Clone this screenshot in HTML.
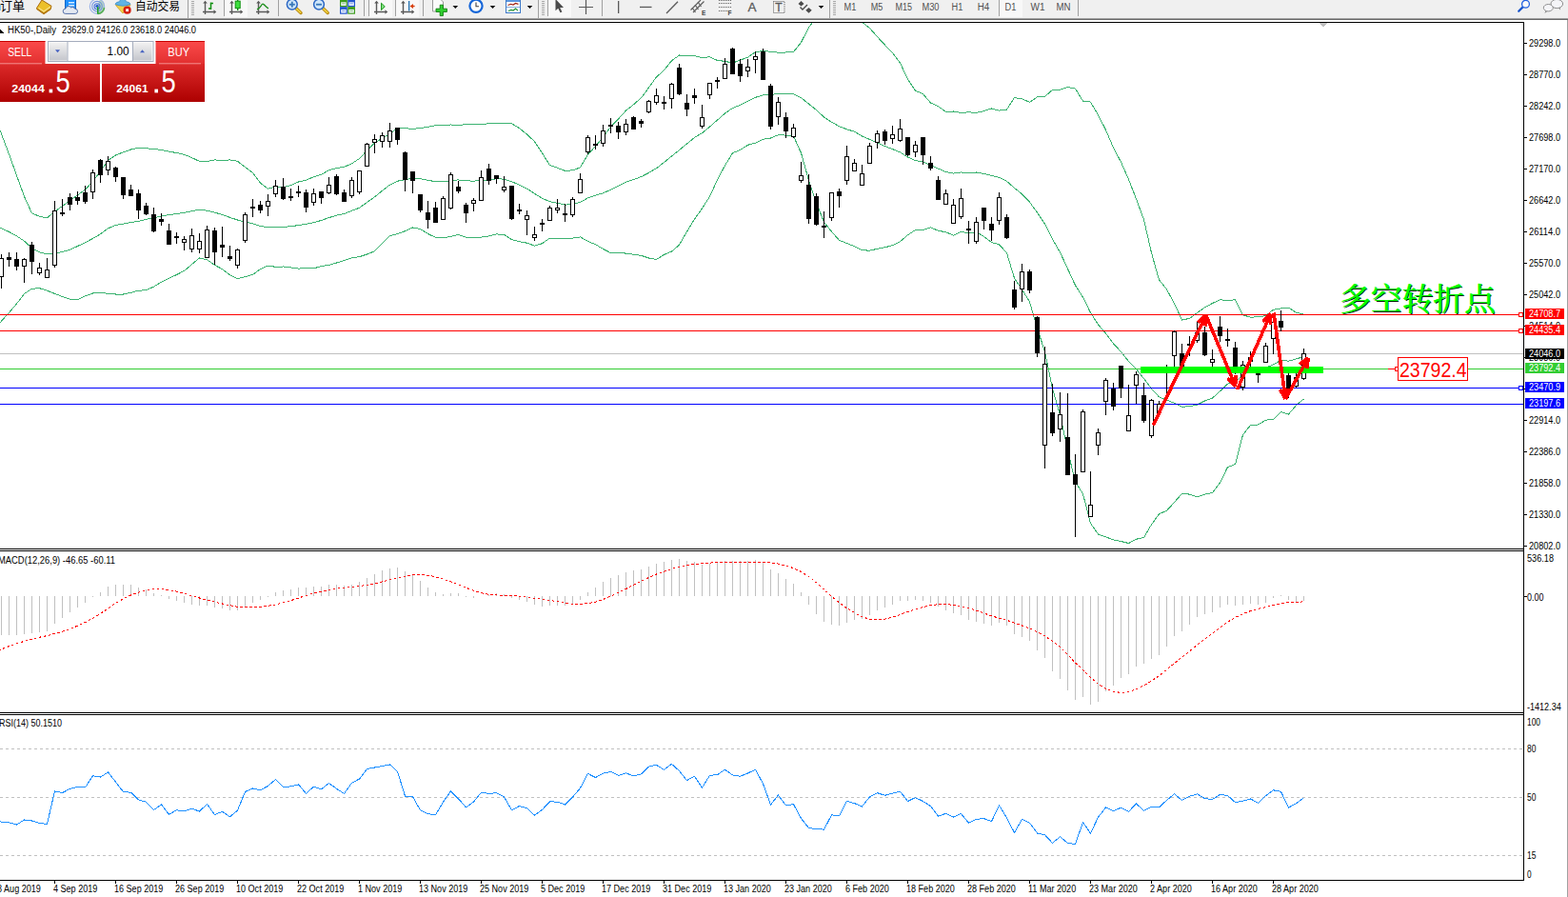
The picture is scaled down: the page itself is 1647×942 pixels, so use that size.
<!DOCTYPE html><html><head><meta charset="utf-8"><title>HK50 Daily</title><style>html,body{margin:0;padding:0;background:#fff;overflow:hidden}svg{display:block}text{font-family:"Liberation Sans","Noto Sans CJK SC",sans-serif}</style></head><body><svg width="1647" height="942" viewBox="0 0 1647 942"><defs><clipPath id="cm"><rect x="0" y="24" width="1600" height="552"/></clipPath></defs><g shape-rendering="crispEdges"><rect x="0" y="0" width="1647" height="942" fill="#fff"/><g clip-path="url(#cm)"><polyline fill="none" stroke="#3cb371" stroke-width="1" points="-6.5,119.5 1.5,140.7 9.5,161.9 17.5,184.2 25.5,206.5 33.5,223.9 41.5,227.3 49.5,228.8 57.5,222 65.5,216.5 73.5,210.5 81.5,205 89.5,199.1 97.5,190.5 105.5,179.9 113.5,168.3 121.5,163 129.5,159.8 137.5,157 145.5,155.1 153.5,155.8 161.5,156.5 169.5,157.4 177.5,159.2 185.5,160.5 193.5,162.3 201.5,165.6 209.5,169.4 217.5,169.5 225.5,168 233.5,168.1 241.5,168 249.5,169.3 257.5,175.6 265.5,181.3 273.5,192.3 281.5,198.2 289.5,196.1 297.5,196.7 305.5,194.5 313.5,191 321.5,189.2 329.5,185.7 337.5,183.3 345.5,178.8 353.5,176.5 361.5,175.3 369.5,171.9 377.5,166.6 385.5,158 393.5,149.9 401.5,145.3 409.5,140.3 417.5,134.7 425.5,134.8 433.5,135.3 441.5,134.7 449.5,133.3 457.5,131.8 465.5,131.8 473.5,131 481.5,131.4 489.5,130.7 497.5,130.6 505.5,130.3 513.5,129.9 521.5,129.7 529.5,129.9 537.5,129.8 545.5,134.6 553.5,141.1 561.5,148.6 569.5,160.8 577.5,173.5 585.5,176.3 593.5,179.4 601.5,178.8 609.5,175.9 617.5,162.3 625.5,153.5 633.5,144.1 641.5,133.1 649.5,124.9 657.5,116.1 665.5,109.8 673.5,102.8 681.5,92 689.5,80.9 697.5,73.8 705.5,63.8 713.5,58 721.5,58.7 729.5,58.6 737.5,60.5 745.5,59.8 753.5,63.5 761.5,64.3 769.5,66.2 777.5,63.1 785.5,60.2 793.5,54.5 801.5,53.6 809.5,54.2 817.5,55.2 825.5,55 833.5,54.5 841.5,44.6 849.5,28.8 857.5,17.9 865.5,12.7 873.5,13.2 881.5,13 889.5,16.1 897.5,17.7 905.5,23.2 913.5,29.5 921.5,38.7 929.5,47.2 937.5,55.6 945.5,66.1 953.5,83.3 961.5,95.3 969.5,98.6 977.5,108 985.5,111.8 993.5,117.3 1001.5,117 1009.5,118.5 1017.5,117.8 1025.5,118.4 1033.5,116.6 1041.5,114 1049.5,116.1 1057.5,115.1 1065.5,102.5 1073.5,103.9 1081.5,107.3 1089.5,101.9 1097.5,101.4 1105.5,94.4 1113.5,94.3 1121.5,91.5 1129.5,93.1 1137.5,106.1 1145.5,107.1 1153.5,120.9 1161.5,136.4 1169.5,155.2 1177.5,170.2 1185.5,188.5 1193.5,208.9 1201.5,230.6 1209.5,265.6 1217.5,294 1225.5,303.8 1233.5,318.8 1241.5,336 1249.5,334.4 1257.5,328.5 1265.5,322.9 1273.5,318.5 1281.5,314.7 1289.5,315.8 1297.5,314.6 1305.5,330.9 1313.5,333.1 1321.5,332.9 1329.5,331.5 1337.5,325.3 1345.5,324 1353.5,323.2 1361.5,328.2 1369.5,330.1"/><polyline fill="none" stroke="#3cb371" stroke-width="1" points="-6.5,236.1 1.5,239.8 9.5,243.5 17.5,247.9 25.5,253.2 33.5,260.5 41.5,264.9 49.5,267 57.5,265.9 65.5,264.5 73.5,262.3 81.5,258.5 89.5,254.7 97.5,250.5 105.5,245.8 113.5,239.8 121.5,236.5 129.5,235.1 137.5,233.5 145.5,232.5 153.5,230.2 161.5,228.8 169.5,226.8 177.5,225.7 185.5,224.5 193.5,223.4 201.5,221.6 209.5,220.2 217.5,221.2 225.5,223.2 233.5,225.4 241.5,228.4 249.5,231 257.5,233.1 265.5,234.8 273.5,237.4 281.5,238.7 289.5,238.2 297.5,238.4 305.5,237.7 313.5,236.6 321.5,235.3 329.5,233.8 337.5,231.4 345.5,228.6 353.5,226.2 361.5,224.5 369.5,221.3 377.5,218.2 385.5,212.5 393.5,206.8 401.5,200.3 409.5,194.1 417.5,190.2 425.5,188.7 433.5,187.1 441.5,187.6 449.5,189.4 457.5,190.6 465.5,190.7 473.5,189.7 481.5,188.9 489.5,189.9 497.5,190.1 505.5,189.7 513.5,189 521.5,187.8 529.5,188.1 537.5,190.7 545.5,194.1 553.5,198.1 561.5,203.3 569.5,208.2 577.5,211.8 585.5,213.3 593.5,215.1 601.5,214.5 609.5,212.4 617.5,207.9 625.5,205.1 633.5,202.8 641.5,199.3 649.5,195.1 657.5,191.1 665.5,188.6 673.5,185.6 681.5,181.5 689.5,176.7 697.5,170.6 705.5,164 713.5,157.6 721.5,151 729.5,144.4 737.5,139.7 745.5,133.1 753.5,126.1 761.5,119.1 769.5,113.5 777.5,110.3 785.5,106.2 793.5,102.3 801.5,99.9 809.5,99.6 817.5,98.4 825.5,98.5 833.5,98.8 841.5,102.7 849.5,109.1 857.5,115.5 865.5,123 873.5,128.2 881.5,132.7 889.5,135.8 897.5,138.2 905.5,143 913.5,146.4 921.5,150 929.5,153.5 937.5,156.6 945.5,159.9 953.5,165 961.5,168.5 969.5,170 977.5,173.4 985.5,177.1 993.5,180.5 1001.5,182.1 1009.5,181 1017.5,181.2 1025.5,181 1033.5,182.5 1041.5,184.3 1049.5,186.4 1057.5,190.3 1065.5,197.4 1073.5,203.9 1081.5,212.2 1089.5,223.3 1097.5,235.3 1105.5,251.3 1113.5,265 1121.5,282.3 1129.5,299.6 1137.5,312.3 1145.5,328.4 1153.5,340.9 1161.5,350.1 1169.5,361 1177.5,369.3 1185.5,379.5 1193.5,387.6 1201.5,397.6 1209.5,408.2 1217.5,416.9 1225.5,420.1 1233.5,423.2 1241.5,427.2 1249.5,426.8 1257.5,425.1 1265.5,421 1273.5,418.1 1281.5,410.8 1289.5,403.2 1297.5,401.1 1305.5,393.8 1313.5,389.8 1321.5,389.5 1329.5,386.3 1337.5,382.9 1345.5,378.2 1353.5,379.2 1361.5,376.9 1369.5,374.5"/><polyline fill="none" stroke="#3cb371" stroke-width="1" points="-6.5,346.2 1.5,337.2 9.5,328.3 17.5,319 25.5,308.5 33.5,303.2 41.5,302.7 49.5,305.2 57.5,308.4 65.5,311.5 73.5,314.1 81.5,314.8 89.5,310.9 97.5,308 105.5,307.3 113.5,308.4 121.5,309 129.5,309 137.5,307.3 145.5,305.2 153.5,304.7 161.5,301.1 169.5,296.2 177.5,292.2 185.5,288.5 193.5,284.4 201.5,277.7 209.5,270.9 217.5,272.8 225.5,278.3 233.5,282.7 241.5,288.8 249.5,292.6 257.5,290.7 265.5,288.4 273.5,282.5 281.5,279.1 289.5,280.3 297.5,280 305.5,280.9 313.5,282.1 321.5,281.4 329.5,281.9 337.5,279.5 345.5,278.4 353.5,276 361.5,273.6 369.5,270.7 377.5,269.7 385.5,267 393.5,263.8 401.5,255.4 409.5,247.8 417.5,245.6 425.5,242.6 433.5,239 441.5,240.5 449.5,245.5 457.5,249.4 465.5,249.6 473.5,248.5 481.5,246.4 489.5,249.1 497.5,249.5 505.5,249.1 513.5,248 521.5,245.9 529.5,246.4 537.5,251.6 545.5,253.7 553.5,255.2 561.5,258.1 569.5,255.7 577.5,250.1 585.5,250.3 593.5,250.8 601.5,250.1 609.5,248.9 617.5,253.5 625.5,256.7 633.5,261.5 641.5,265.6 649.5,265.3 657.5,266.1 665.5,267.3 673.5,268.3 681.5,271 689.5,272.5 697.5,267.4 705.5,264.1 713.5,257.1 721.5,243.3 729.5,230.2 737.5,218.8 745.5,206.4 753.5,188.8 761.5,173.8 769.5,160.8 777.5,157.5 785.5,152.3 793.5,150.1 801.5,146.2 809.5,145 817.5,141.7 825.5,142.1 833.5,143 841.5,160.7 849.5,189.5 857.5,213.1 865.5,233.3 873.5,243.2 881.5,252.4 889.5,255.5 897.5,258.7 905.5,262.7 913.5,263.2 921.5,261.3 929.5,259.8 937.5,257.7 945.5,253.6 953.5,246.8 961.5,241.6 969.5,241.4 977.5,238.9 985.5,242.3 993.5,243.7 1001.5,247.1 1009.5,243.5 1017.5,244.7 1025.5,243.7 1033.5,248.4 1041.5,254.5 1049.5,256.8 1057.5,265.6 1065.5,292.2 1073.5,304 1081.5,317 1089.5,344.7 1097.5,369.3 1105.5,408.2 1113.5,435.6 1121.5,473 1129.5,506 1137.5,518.6 1145.5,549.6 1153.5,561 1161.5,563.8 1169.5,566.9 1177.5,568.5 1185.5,570.5 1193.5,566.2 1201.5,564.6 1209.5,550.8 1217.5,539.8 1225.5,536.3 1233.5,527.5 1241.5,518.4 1249.5,519.1 1257.5,521.7 1265.5,519.1 1273.5,517.6 1281.5,506.9 1289.5,490.6 1297.5,487.6 1305.5,456.7 1313.5,446.5 1321.5,446 1329.5,441.1 1337.5,440.5 1345.5,432.5 1353.5,435.1 1361.5,425.6 1369.5,418.9"/><rect x="0" y="330" width="1600" height="1" fill="#f00"/><rect x="0" y="347" width="1600" height="1" fill="#f00"/><rect x="0" y="371" width="1600" height="1" fill="#c0c0c0"/><rect x="0" y="387" width="1600" height="1" fill="#32cd32"/><rect x="0" y="407" width="1600" height="1" fill="#00f"/><rect x="0" y="424" width="1600" height="1" fill="#00f"/><path fill="#000" d="M1 267h1v36h-1zM-1 271h5v20h-5zM9 265h1v15h-1zM7 270h5v3h-5zM17 265h1v19h-1zM15 272h5v8h-5zM25 271h1v26h-1zM23 272h5v8h-5zM33 254h1v34h-1zM31 257h5v18h-5zM41 276h1v13h-1zM39 281h5v6h-5zM49 271h1v21h-1zM47 283h5v9h-5zM57 211h1v70h-1zM55 221h5v58h-5zM65 209h1v18h-1zM63 223h5v2h-5zM73 203h1v18h-1zM71 207h5v8h-5zM81 201h1v14h-1zM79 207h5v4h-5zM89 195h1v19h-1zM87 202h5v10h-5zM97 178h1v31h-1zM95 181h5v21h-5zM105 167h1v25h-1zM103 168h5v16h-5zM113 164h1v20h-1zM111 169h5v10h-5zM121 175h1v16h-1zM119 176h5v10h-5zM129 186h1v23h-1zM127 186h5v19h-5zM137 194h1v12h-1zM135 199h5v7h-5zM145 199h1v31h-1zM143 203h5v18h-5zM153 213h1v13h-1zM151 216h5v9h-5zM161 218h1v26h-1zM159 225h5v18h-5zM169 224h1v13h-1zM167 230h5v3h-5zM177 235h1v22h-1zM175 242h5v15h-5zM185 244h1v12h-1zM183 248h5v2h-5zM193 248h1v15h-1zM191 251h5v4h-5zM201 240h1v25h-1zM199 247h5v15h-5zM209 245h1v21h-1zM207 253h5v9h-5zM217 237h1v34h-1zM215 241h5v30h-5zM225 239h1v39h-1zM223 242h5v23h-5zM233 238h1v32h-1zM231 257h5v3h-5zM241 258h1v16h-1zM239 269h5v3h-5zM249 261h1v21h-1zM247 262h5v17h-5zM257 223h1v32h-1zM255 225h5v28h-5zM265 209h1v19h-1zM263 217h5v2h-5zM273 211h1v13h-1zM271 215h5v6h-5zM281 204h1v23h-1zM279 211h5v6h-5zM289 189h1v18h-1zM287 195h5v9h-5zM297 187h1v23h-1zM295 196h5v13h-5zM305 198h1v13h-1zM303 206h5v2h-5zM313 195h1v12h-1zM311 201h5v2h-5zM321 199h1v24h-1zM319 202h5v16h-5zM329 198h1v18h-1zM327 203h5v10h-5zM337 201h1v13h-1zM335 201h5v7h-5zM345 186h1v18h-1zM343 194h5v9h-5zM353 183h1v22h-1zM351 185h5v19h-5zM361 199h1v13h-1zM359 202h5v10h-5zM369 186h1v22h-1zM367 189h5v17h-5zM377 179h1v25h-1zM375 179h5v23h-5zM385 150h1v25h-1zM383 151h5v24h-5zM393 141h1v20h-1zM391 146h5v4h-5zM401 139h1v16h-1zM399 142h5v7h-5zM409 129h1v26h-1zM407 137h5v12h-5zM417 134h1v18h-1zM415 134h5v13h-5zM425 159h1v42h-1zM423 160h5v29h-5zM433 180h1v23h-1zM431 180h5v10h-5zM441 204h1v19h-1zM439 204h5v17h-5zM449 211h1v29h-1zM447 223h5v8h-5zM457 212h1v22h-1zM455 218h5v16h-5zM465 206h1v25h-1zM463 208h5v23h-5zM473 181h1v39h-1zM471 183h5v36h-5zM481 190h1v13h-1zM479 196h5v5h-5zM489 213h1v21h-1zM487 215h5v9h-5zM497 208h1v14h-1zM495 210h5v4h-5zM505 179h1v32h-1zM503 186h5v25h-5zM513 172h1v22h-1zM511 177h5v13h-5zM521 184h1v9h-1zM519 184h5v4h-5zM529 185h1v17h-1zM527 196h5v4h-5zM537 195h1v36h-1zM535 195h5v35h-5zM545 214h1v11h-1zM543 220h5v2h-5zM553 221h1v26h-1zM551 226h5v5h-5zM561 238h1v15h-1zM559 246h5v4h-5zM569 230h1v13h-1zM567 234h5v2h-5zM577 216h1v16h-1zM575 218h5v14h-5zM585 209h1v15h-1zM583 218h5v3h-5zM593 214h1v19h-1zM591 224h5v2h-5zM601 207h1v21h-1zM599 209h5v17h-5zM609 182h1v21h-1zM607 188h5v15h-5zM617 142h1v20h-1zM615 144h5v16h-5zM625 142h1v15h-1zM623 151h5v2h-5zM633 131h1v23h-1zM631 137h5v14h-5zM641 124h1v16h-1zM639 131h5v2h-5zM649 128h1v18h-1zM647 132h5v7h-5zM657 125h1v17h-1zM655 130h5v9h-5zM665 122h1v14h-1zM663 123h5v13h-5zM673 125h1v9h-1zM671 127h5v3h-5zM681 105h1v14h-1zM679 106h5v12h-5zM689 93h1v17h-1zM687 100h5v8h-5zM697 101h1v14h-1zM695 107h5v2h-5zM705 87h1v27h-1zM703 88h5v16h-5zM713 67h1v33h-1zM711 71h5v28h-5zM721 99h1v23h-1zM719 108h5v7h-5zM729 93h1v16h-1zM727 100h5v3h-5zM737 110h1v25h-1zM735 123h5v10h-5zM745 87h1v17h-1zM743 87h5v13h-5zM753 81h1v12h-1zM751 84h5v2h-5zM761 61h1v22h-1zM759 67h5v16h-5zM769 50h1v28h-1zM767 51h5v27h-5zM777 62h1v24h-1zM775 67h5v13h-5zM785 62h1v19h-1zM783 70h5v5h-5zM793 54h1v23h-1zM791 59h5v4h-5zM801 51h1v33h-1zM799 54h5v30h-5zM809 88h1v48h-1zM807 90h5v43h-5zM817 102h1v29h-1zM815 107h5v16h-5zM825 118h1v27h-1zM823 123h5v15h-5zM833 130h1v15h-1zM831 134h5v10h-5zM841 170h1v22h-1zM839 184h5v6h-5zM849 183h1v52h-1zM847 194h5v36h-5zM857 203h1v34h-1zM855 206h5v30h-5zM865 222h1v28h-1zM863 237h5v2h-5zM873 202h1v30h-1zM871 202h5v27h-5zM881 198h1v20h-1zM879 201h5v5h-5zM889 153h1v41h-1zM887 164h5v26h-5zM897 167h1v13h-1zM895 171h5v9h-5zM905 173h1v22h-1zM903 182h5v13h-5zM913 150h1v22h-1zM911 153h5v19h-5zM921 137h1v19h-1zM919 140h5v10h-5zM929 136h1v16h-1zM927 138h5v10h-5zM937 132h1v19h-1zM935 141h5v5h-5zM945 125h1v24h-1zM943 135h5v13h-5zM953 144h1v20h-1zM951 144h5v19h-5zM961 148h1v17h-1zM959 152h5v8h-5zM969 144h1v29h-1zM967 144h5v19h-5zM977 164h1v15h-1zM975 171h5v6h-5zM985 185h1v25h-1zM983 189h5v21h-5zM993 199h1v16h-1zM991 203h5v12h-5zM1001 209h1v26h-1zM999 215h5v20h-5zM1009 198h1v32h-1zM1007 208h5v20h-5zM1017 232h1v24h-1zM1015 240h5v2h-5zM1025 228h1v28h-1zM1023 233h5v21h-5zM1033 218h1v23h-1zM1031 218h5v14h-5zM1041 228h1v25h-1zM1039 235h5v7h-5zM1049 202h1v34h-1zM1047 207h5v25h-5zM1057 225h1v26h-1zM1055 228h5v22h-5zM1065 295h1v30h-1zM1063 304h5v19h-5zM1073 277h1v40h-1zM1071 285h5v19h-5zM1081 283h1v25h-1zM1079 285h5v20h-5zM1089 332h1v43h-1zM1087 333h5v38h-5zM1097 364h1v128h-1zM1095 382h5v86h-5zM1105 403h1v55h-1zM1103 433h5v22h-5zM1113 412h1v52h-1zM1111 435h5v16h-5zM1121 413h1v86h-1zM1119 459h5v40h-5zM1129 477h1v87h-1zM1127 498h5v11h-5zM1137 430h1v66h-1zM1135 432h5v64h-5zM1145 495h1v48h-1zM1143 530h5v13h-5zM1153 450h1v28h-1zM1151 454h5v14h-5zM1161 397h1v39h-1zM1159 399h5v23h-5zM1169 402h1v29h-1zM1167 408h5v19h-5zM1177 384h1v34h-1zM1175 384h5v24h-5zM1185 404h1v49h-1zM1183 436h5v17h-5zM1193 390h1v34h-1zM1191 393h5v12h-5zM1201 402h1v42h-1zM1199 415h5v27h-5zM1209 419h1v41h-1zM1207 420h5v38h-5zM1217 421h1v14h-1zM1215 424h5v10h-5zM1225 383h1v31h-1zM1223 385h5v6h-5zM1233 347h1v38h-1zM1231 348h5v26h-5zM1241 361h1v24h-1zM1239 371h5v14h-5zM1249 353h1v21h-1zM1247 361h5v2h-5zM1257 337h1v23h-1zM1255 349h5v9h-5zM1265 343h1v31h-1zM1263 349h5v24h-5zM1273 367h1v18h-1zM1271 377h5v4h-5zM1281 332h1v27h-1zM1279 343h5v10h-5zM1289 345h1v19h-1zM1287 356h5v2h-5zM1297 359h1v34h-1zM1295 365h5v25h-5zM1305 379h1v31h-1zM1303 383h5v24h-5zM1313 369h1v17h-1zM1311 375h5v5h-5zM1321 388h1v14h-1zM1319 392h5v2h-5zM1329 360h1v21h-1zM1327 363h5v18h-5zM1337 329h1v43h-1zM1335 338h5v18h-5zM1345 326h1v22h-1zM1343 337h5v7h-5zM1353 392h1v26h-1zM1351 394h5v18h-5zM1361 392h1v15h-1zM1359 396h5v10h-5zM1369 366h1v33h-1zM1367 371h5v27h-5z"/><path fill="#fff" d="M0 272h3v18h-3zM24 273h3v6h-3zM40 282h3v4h-3zM48 284h3v7h-3zM56 222h3v56h-3zM96 182h3v19h-3zM112 170h3v8h-3zM192 252h3v2h-3zM200 248h3v13h-3zM208 254h3v7h-3zM216 242h3v28h-3zM248 263h3v15h-3zM256 226h3v26h-3zM280 212h3v4h-3zM288 196h3v7h-3zM328 204h3v8h-3zM344 195h3v7h-3zM368 190h3v15h-3zM376 180h3v21h-3zM384 152h3v22h-3zM392 147h3v2h-3zM400 143h3v5h-3zM408 138h3v10h-3zM464 209h3v21h-3zM472 184h3v34h-3zM496 211h3v2h-3zM504 187h3v23h-3zM528 197h3v2h-3zM552 227h3v3h-3zM560 247h3v2h-3zM576 219h3v12h-3zM584 219h3v1h-3zM600 210h3v15h-3zM608 189h3v13h-3zM616 145h3v14h-3zM632 138h3v12h-3zM656 131h3v7h-3zM680 107h3v10h-3zM688 101h3v6h-3zM704 89h3v14h-3zM736 124h3v8h-3zM744 88h3v11h-3zM760 68h3v14h-3zM784 71h3v3h-3zM792 60h3v2h-3zM816 108h3v14h-3zM832 135h3v8h-3zM840 185h3v4h-3zM872 203h3v25h-3zM888 165h3v24h-3zM896 172h3v7h-3zM904 183h3v11h-3zM912 154h3v17h-3zM920 141h3v8h-3zM936 142h3v3h-3zM944 136h3v11h-3zM960 153h3v6h-3zM992 204h3v10h-3zM1000 216h3v18h-3zM1008 209h3v18h-3zM1024 234h3v19h-3zM1048 208h3v23h-3zM1072 286h3v17h-3zM1096 383h3v84h-3zM1112 436h3v14h-3zM1136 433h3v62h-3zM1144 531h3v11h-3zM1152 455h3v12h-3zM1160 400h3v21h-3zM1184 437h3v15h-3zM1192 394h3v10h-3zM1208 421h3v36h-3zM1216 425h3v8h-3zM1224 386h3v4h-3zM1232 349h3v24h-3zM1256 350h3v7h-3zM1272 378h3v2h-3zM1304 384h3v22h-3zM1312 376h3v3h-3zM1328 364h3v16h-3zM1336 339h3v16h-3zM1360 397h3v8h-3zM1368 372h3v25h-3z"/></g><rect x="1198" y="385" width="192" height="7" fill="#0f0"/><g shape-rendering="crispEdges"><line x1="1211.3" y1="446.5" x2="1266.7" y2="331" stroke="#f00" stroke-width="3.6"/><line x1="1266.7" y1="331" x2="1266.2" y2="342.5" stroke="#f00" stroke-width="3.6" stroke-linecap="butt"/><line x1="1266.7" y1="331" x2="1258.1" y2="338.6" stroke="#f00" stroke-width="3.6" stroke-linecap="butt"/><line x1="1266.7" y1="331" x2="1297.7" y2="405.5" stroke="#f00" stroke-width="3.6"/><line x1="1297.7" y1="405.5" x2="1289.5" y2="397.5" stroke="#f00" stroke-width="3.6" stroke-linecap="butt"/><line x1="1297.7" y1="405.5" x2="1297.8" y2="394" stroke="#f00" stroke-width="3.6" stroke-linecap="butt"/><line x1="1299.6" y1="409" x2="1334.8" y2="329.5" stroke="#f00" stroke-width="3.6"/><line x1="1334.8" y1="329.5" x2="1334.6" y2="341" stroke="#f00" stroke-width="3.6" stroke-linecap="butt"/><line x1="1334.8" y1="329.5" x2="1326.4" y2="337.4" stroke="#f00" stroke-width="3.6" stroke-linecap="butt"/><line x1="1337.9" y1="328.5" x2="1350.3" y2="419" stroke="#f00" stroke-width="3.6"/><line x1="1350.3" y1="419" x2="1344.4" y2="409.1" stroke="#f00" stroke-width="3.6" stroke-linecap="butt"/><line x1="1350.3" y1="419" x2="1353.3" y2="407.9" stroke="#f00" stroke-width="3.6" stroke-linecap="butt"/><line x1="1350.3" y1="419" x2="1374.2" y2="375.5" stroke="#f00" stroke-width="3.6"/><line x1="1374.2" y1="375.5" x2="1373" y2="386.9" stroke="#f00" stroke-width="3.6" stroke-linecap="butt"/><line x1="1374.2" y1="375.5" x2="1365.2" y2="382.6" stroke="#f00" stroke-width="3.6" stroke-linecap="butt"/></g><rect x="1595.5" y="328.5" width="4" height="4" fill="#fff" stroke="#f00" stroke-width="1"/><rect x="1595.5" y="345.5" width="4" height="4" fill="#fff" stroke="#f00" stroke-width="1"/><rect x="1595.5" y="405.5" width="4" height="4" fill="#fff" stroke="#00f" stroke-width="1"/><rect x="1458" y="387" width="8" height="1" fill="#f00"/><rect x="1465.5" y="385.5" width="3" height="4" fill="#fff" stroke="#f00" stroke-width="1"/><rect x="1468.5" y="375.5" width="73" height="24" fill="#fff" stroke="#f00" stroke-width="1"/><text x="1470" y="395.5" font-size="21.8" fill="#f00" textLength="70.5" lengthAdjust="spacingAndGlyphs">23792.4</text><text x="1408.3" y="327.3" font-size="32.7" fill="#002000" textLength="163.5" lengthAdjust="spacingAndGlyphs" style="font-family:'Liberation Serif','Noto Serif CJK SC',serif">多空转折点</text><text x="1406.9" y="326.4" font-size="32.7" fill="#0f0" textLength="163.5" lengthAdjust="spacingAndGlyphs" style="font-family:'Liberation Serif','Noto Serif CJK SC',serif">多空转折点</text><text x="1407.7" y="326.4" font-size="32.7" fill="#0f0" textLength="163.5" lengthAdjust="spacingAndGlyphs" style="font-family:'Liberation Serif','Noto Serif CJK SC',serif">多空转折点</text><rect x="0" y="23" width="1601" height="1" fill="#000"/><rect x="1600" y="23" width="1" height="902" fill="#000"/><rect x="0" y="576" width="1601" height="1" fill="#000"/><rect x="0" y="578" width="1601" height="1" fill="#000"/><rect x="0" y="748" width="1601" height="1" fill="#000"/><rect x="0" y="750" width="1601" height="1" fill="#000"/><rect x="0" y="924" width="1601" height="1" fill="#000"/><rect x="1646" y="20" width="1" height="922" fill="#a0a0a0"/><path d="M1385 24h9l-4.5 4.5z" fill="#bfbfbf"/><rect x="1601" y="45" width="3" height="1" fill="#000"/><text x="1606" y="49" font-size="10" fill="#000" textLength="33" lengthAdjust="spacingAndGlyphs">29298.0</text><rect x="1601" y="78" width="3" height="1" fill="#000"/><text x="1606" y="82" font-size="10" fill="#000" textLength="33" lengthAdjust="spacingAndGlyphs">28770.0</text><rect x="1601" y="111" width="3" height="1" fill="#000"/><text x="1606" y="115" font-size="10" fill="#000" textLength="33" lengthAdjust="spacingAndGlyphs">28242.0</text><rect x="1601" y="144" width="3" height="1" fill="#000"/><text x="1606" y="148" font-size="10" fill="#000" textLength="33" lengthAdjust="spacingAndGlyphs">27698.0</text><rect x="1601" y="177" width="3" height="1" fill="#000"/><text x="1606" y="181" font-size="10" fill="#000" textLength="33" lengthAdjust="spacingAndGlyphs">27170.0</text><rect x="1601" y="210" width="3" height="1" fill="#000"/><text x="1606" y="214" font-size="10" fill="#000" textLength="33" lengthAdjust="spacingAndGlyphs">26642.0</text><rect x="1601" y="243" width="3" height="1" fill="#000"/><text x="1606" y="247" font-size="10" fill="#000" textLength="33" lengthAdjust="spacingAndGlyphs">26114.0</text><rect x="1601" y="276" width="3" height="1" fill="#000"/><text x="1606" y="280" font-size="10" fill="#000" textLength="33" lengthAdjust="spacingAndGlyphs">25570.0</text><rect x="1601" y="309" width="3" height="1" fill="#000"/><text x="1606" y="313" font-size="10" fill="#000" textLength="33" lengthAdjust="spacingAndGlyphs">25042.0</text><rect x="1601" y="342" width="3" height="1" fill="#000"/><text x="1606" y="346" font-size="10" fill="#000" textLength="33" lengthAdjust="spacingAndGlyphs">24514.0</text><rect x="1601" y="375" width="3" height="1" fill="#000"/><text x="1606" y="379" font-size="10" fill="#000" textLength="33" lengthAdjust="spacingAndGlyphs">23986.0</text><rect x="1601" y="408" width="3" height="1" fill="#000"/><text x="1606" y="412" font-size="10" fill="#000" textLength="33" lengthAdjust="spacingAndGlyphs">23458.0</text><rect x="1601" y="441" width="3" height="1" fill="#000"/><text x="1606" y="445" font-size="10" fill="#000" textLength="33" lengthAdjust="spacingAndGlyphs">22914.0</text><rect x="1601" y="474" width="3" height="1" fill="#000"/><text x="1606" y="478" font-size="10" fill="#000" textLength="33" lengthAdjust="spacingAndGlyphs">22386.0</text><rect x="1601" y="507" width="3" height="1" fill="#000"/><text x="1606" y="511" font-size="10" fill="#000" textLength="33" lengthAdjust="spacingAndGlyphs">21858.0</text><rect x="1601" y="540" width="3" height="1" fill="#000"/><text x="1606" y="544" font-size="10" fill="#000" textLength="33" lengthAdjust="spacingAndGlyphs">21330.0</text><rect x="1601" y="573" width="3" height="1" fill="#000"/><text x="1606" y="577" font-size="10" fill="#000" textLength="33" lengthAdjust="spacingAndGlyphs">20802.0</text><rect x="1602" y="324" width="41" height="11" fill="#f00"/><text x="1606" y="333" font-size="10" fill="#fff" textLength="33" lengthAdjust="spacingAndGlyphs">24708.7</text><rect x="1602" y="341" width="41" height="11" fill="#f00"/><text x="1606" y="350" font-size="10" fill="#fff" textLength="33" lengthAdjust="spacingAndGlyphs">24435.4</text><rect x="1602" y="381" width="41" height="11" fill="#32cd32"/><text x="1606" y="390" font-size="10" fill="#fff" textLength="33" lengthAdjust="spacingAndGlyphs">23792.4</text><rect x="1602" y="366" width="41" height="11" fill="#000"/><text x="1606" y="375" font-size="10" fill="#fff" textLength="33" lengthAdjust="spacingAndGlyphs">24046.0</text><rect x="1602" y="401" width="41" height="11" fill="#00f"/><text x="1606" y="410" font-size="10" fill="#fff" textLength="33" lengthAdjust="spacingAndGlyphs">23470.9</text><rect x="1602" y="418" width="41" height="11" fill="#00f"/><text x="1606" y="427" font-size="10" fill="#fff" textLength="33" lengthAdjust="spacingAndGlyphs">23197.6</text><path d="M0 34.5h3.5L0 31z" fill="#000"/><text x="8" y="35" font-size="10" fill="#000" textLength="51" lengthAdjust="spacingAndGlyphs">HK50-,Daily</text><text x="65" y="35" font-size="10" fill="#000" textLength="141" lengthAdjust="spacingAndGlyphs">23629.0 24126.0 23618.0 24046.0</text><path fill="#c0c0c0" d="M1 626h1v41h-1zM9 626h1v41h-1zM17 626h1v41h-1zM25 626h1v40h-1zM33 626h1v39h-1zM41 626h1v38h-1zM49 626h1v37h-1zM57 626h1v29h-1zM65 626h1v23h-1zM73 626h1v17h-1zM81 626h1v12h-1zM89 626h1v7h-1zM97 626h1v1h-1zM105 622h1v4h-1zM113 616h1v10h-1zM121 614h1v12h-1zM129 614h1v12h-1zM137 614h1v12h-1zM145 617h1v9h-1zM153 619h1v7h-1zM161 623h1v3h-1zM169 625h1v1h-1zM177 626h1v3h-1zM185 626h1v5h-1zM193 626h1v7h-1zM201 626h1v9h-1zM209 626h1v10h-1zM217 626h1v10h-1zM225 626h1v12h-1zM233 626h1v13h-1zM241 626h1v15h-1zM249 626h1v15h-1zM257 626h1v11h-1zM265 626h1v7h-1zM273 626h1v4h-1zM281 626h1v1h-1zM289 622h1v4h-1zM297 620h1v6h-1zM305 619h1v7h-1zM313 617h1v9h-1zM321 617h1v9h-1zM329 616h1v10h-1zM337 616h1v10h-1zM345 614h1v12h-1zM353 614h1v12h-1zM361 615h1v11h-1zM369 614h1v12h-1zM377 611h1v15h-1zM385 607h1v19h-1zM393 603h1v23h-1zM401 599h1v27h-1zM409 597h1v29h-1zM417 596h1v30h-1zM425 600h1v26h-1zM433 604h1v22h-1zM441 610h1v16h-1zM449 617h1v9h-1zM457 622h1v4h-1zM465 624h1v2h-1zM473 623h1v3h-1zM481 623h1v3h-1zM489 626h1v1h-1zM497 626h1v2h-1zM513 625h1v1h-1zM521 623h1v3h-1zM529 624h1v2h-1zM537 626h1v2h-1zM545 626h1v4h-1zM553 626h1v6h-1zM561 626h1v9h-1zM569 626h1v11h-1zM577 626h1v10h-1zM585 626h1v10h-1zM593 626h1v10h-1zM601 626h1v8h-1zM609 626h1v4h-1zM617 622h1v4h-1zM625 617h1v9h-1zM633 611h1v15h-1zM641 607h1v19h-1zM649 604h1v22h-1zM657 601h1v25h-1zM665 599h1v27h-1zM673 598h1v28h-1zM681 595h1v31h-1zM689 592h1v34h-1zM697 590h1v36h-1zM705 588h1v38h-1zM713 587h1v39h-1zM721 589h1v37h-1zM729 590h1v36h-1zM737 593h1v33h-1zM745 592h1v34h-1zM753 591h1v35h-1zM761 589h1v37h-1zM769 589h1v37h-1zM777 589h1v37h-1zM785 589h1v37h-1zM793 588h1v38h-1zM801 590h1v36h-1zM809 598h1v28h-1zM817 602h1v24h-1zM825 608h1v18h-1zM833 613h1v13h-1zM841 622h1v4h-1zM849 626h1v9h-1zM857 626h1v19h-1zM865 626h1v27h-1zM873 626h1v30h-1zM881 626h1v31h-1zM889 626h1v28h-1zM897 626h1v25h-1zM905 626h1v24h-1zM913 626h1v20h-1zM921 626h1v15h-1zM929 626h1v12h-1zM937 626h1v9h-1zM945 626h1v5h-1zM953 626h1v5h-1zM961 626h1v4h-1zM969 626h1v5h-1zM977 626h1v7h-1zM985 626h1v11h-1zM993 626h1v15h-1zM1001 626h1v18h-1zM1009 626h1v20h-1zM1017 626h1v25h-1zM1025 626h1v27h-1zM1033 626h1v29h-1zM1041 626h1v31h-1zM1049 626h1v28h-1zM1057 626h1v31h-1zM1065 626h1v40h-1zM1073 626h1v43h-1zM1081 626h1v47h-1zM1089 626h1v57h-1zM1097 626h1v65h-1zM1105 626h1v79h-1zM1113 626h1v87h-1zM1121 626h1v99h-1zM1129 626h1v109h-1zM1137 626h1v106h-1zM1145 626h1v114h-1zM1153 626h1v111h-1zM1161 626h1v100h-1zM1169 626h1v94h-1zM1177 626h1v86h-1zM1185 626h1v82h-1zM1193 626h1v74h-1zM1201 626h1v71h-1zM1209 626h1v66h-1zM1217 626h1v62h-1zM1225 626h1v53h-1zM1233 626h1v42h-1zM1241 626h1v37h-1zM1249 626h1v30h-1zM1257 626h1v22h-1zM1265 626h1v19h-1zM1273 626h1v17h-1zM1281 626h1v12h-1zM1289 626h1v9h-1zM1297 626h1v10h-1zM1305 626h1v9h-1zM1313 626h1v8h-1zM1321 626h1v9h-1zM1329 626h1v7h-1zM1337 626h1v2h-1zM1345 625h1v1h-1zM1353 626h1v4h-1zM1361 626h1v6h-1zM1369 626h1v5h-1z"/><polyline fill="none" stroke="#f00" stroke-width="1" points="-6.5,684.8 1.5,681.8 9.5,678.6 17.5,675.9 25.5,673.4 33.5,671.2 41.5,669.2 49.5,667.6 57.5,665.5 65.5,663.2 73.5,660.5 81.5,657.2 89.5,653.5 97.5,649.1 105.5,644.4 113.5,639 121.5,633.5 129.5,628.9 137.5,625 145.5,622.1 153.5,620 161.5,618.8 169.5,618.6 177.5,619.4 185.5,621.1 193.5,623.3 201.5,625.6 209.5,628 217.5,630.1 225.5,632.2 233.5,634 241.5,635.8 249.5,637.2 257.5,637.9 265.5,637.8 273.5,637.4 281.5,636.3 289.5,634.9 297.5,632.9 305.5,630.7 313.5,628 321.5,625.4 329.5,623 337.5,621.1 345.5,619.4 353.5,618 361.5,617.2 369.5,616.4 377.5,615.6 385.5,614.4 393.5,612.8 401.5,610.9 409.5,608.8 417.5,606.7 425.5,605.1 433.5,603.8 441.5,603.5 449.5,604.1 457.5,605.8 465.5,608.2 473.5,610.8 481.5,613.8 489.5,617.2 497.5,620.3 505.5,622.7 513.5,624.3 521.5,625 529.5,625.1 537.5,625.5 545.5,626.3 553.5,627.2 561.5,628.2 569.5,629.2 577.5,630.4 585.5,631.7 593.5,633 601.5,634.2 609.5,634.5 617.5,633.7 625.5,632.1 633.5,629.4 641.5,626 649.5,622.4 657.5,618.5 665.5,614.4 673.5,610.4 681.5,606.5 689.5,603 697.5,600.1 705.5,597.5 713.5,595.3 721.5,593.7 729.5,592.5 737.5,591.8 745.5,591.1 753.5,590.7 761.5,590.4 769.5,590.2 777.5,590.3 785.5,590.5 793.5,590.3 801.5,590.4 809.5,591 817.5,592.1 825.5,594 833.5,596.7 841.5,600.5 849.5,605.5 857.5,611.8 865.5,619.1 873.5,626.3 881.5,632.9 889.5,638.7 897.5,643.5 905.5,647.7 913.5,650.3 921.5,651 929.5,650.2 937.5,648.1 945.5,645.4 953.5,642.5 961.5,639.9 969.5,637.7 977.5,635.7 985.5,634.7 993.5,634.6 1001.5,635.3 1009.5,636.6 1017.5,638.7 1025.5,641.2 1033.5,643.9 1041.5,646.8 1049.5,649.2 1057.5,651.3 1065.5,654.2 1073.5,657 1081.5,660 1089.5,663.6 1097.5,667.8 1105.5,673.4 1113.5,679.6 1121.5,687.5 1129.5,696.1 1137.5,703.4 1145.5,711.3 1153.5,718.4 1161.5,723.2 1169.5,726.5 1177.5,727.3 1185.5,726.7 1193.5,723.9 1201.5,719.7 1209.5,715.3 1217.5,709.5 1225.5,703.1 1233.5,696.6 1241.5,690.2 1249.5,683.9 1257.5,677.3 1265.5,671.2 1273.5,665.2 1281.5,659.2 1289.5,653.3 1297.5,648.4 1305.5,644.8 1313.5,641.6 1321.5,639.3 1329.5,637.6 1337.5,635.6 1345.5,633.6 1353.5,632.7 1361.5,632.4 1369.5,631.8" stroke-dasharray="2.5,2.5"/><text x="-2" y="591.5" font-size="10" fill="#000" textLength="123" lengthAdjust="spacingAndGlyphs">MACD(12,26,9) -46.65 -60.11</text><text x="1604" y="589.5" font-size="10" fill="#000" textLength="28" lengthAdjust="spacingAndGlyphs">536.18</text><text x="1604" y="630.5" font-size="10" fill="#000" textLength="17.5" lengthAdjust="spacingAndGlyphs">0.00</text><text x="1604" y="745.5" font-size="10" fill="#000" textLength="35.7" lengthAdjust="spacingAndGlyphs">-1412.34</text><rect x="1601" y="626" width="3" height="1" fill="#000"/><line x1="0" y1="786.5" x2="1600" y2="786.5" stroke="#c0c0c0" stroke-width="1" stroke-dasharray="3,3"/><line x1="0" y1="837.5" x2="1600" y2="837.5" stroke="#c0c0c0" stroke-width="1" stroke-dasharray="3,3"/><line x1="0" y1="898.5" x2="1600" y2="898.5" stroke="#c0c0c0" stroke-width="1" stroke-dasharray="3,3"/><polyline fill="none" stroke="#1e90ff" stroke-width="1" points="-6.5,861.5 1.5,863.2 9.5,863.8 17.5,866 25.5,861 33.5,862 41.5,864.6 49.5,865.3 57.5,830.8 65.5,832.6 73.5,828.3 81.5,826.5 89.5,827 97.5,814.8 105.5,816.1 113.5,810.9 121.5,821.2 129.5,831.6 137.5,832.2 145.5,839.9 153.5,842.2 161.5,850.6 169.5,844.9 177.5,855.3 185.5,850.8 193.5,851.7 201.5,849.1 209.5,852.1 217.5,844.4 225.5,855.6 233.5,852.3 241.5,857.8 249.5,851.1 257.5,831.4 265.5,828 273.5,829.8 281.5,825.4 289.5,818.6 297.5,826.8 305.5,825.8 313.5,823.8 321.5,833.3 329.5,826.1 337.5,828.9 345.5,822.4 353.5,828.3 361.5,833.4 369.5,822.3 377.5,818 385.5,807.6 393.5,806 401.5,804.5 409.5,802.9 417.5,810.2 425.5,836.1 433.5,836.6 441.5,850.9 449.5,854.7 457.5,855.9 465.5,842.1 473.5,830.9 481.5,838.8 489.5,847.9 497.5,842.1 505.5,832.1 513.5,833.5 521.5,832.6 529.5,837 537.5,850.9 545.5,846.5 553.5,848.8 561.5,856.1 569.5,850.3 577.5,841.9 585.5,842.1 593.5,845 601.5,837 609.5,827.6 617.5,812.4 625.5,816.5 633.5,812.2 641.5,810.4 649.5,814.4 657.5,811.8 665.5,814.9 673.5,812.8 681.5,805.1 689.5,803.3 697.5,808.4 705.5,802.3 713.5,809.6 721.5,819.6 729.5,815.1 737.5,827.2 745.5,814.3 753.5,813.6 761.5,808.2 769.5,814 777.5,815.2 785.5,812 793.5,808.3 801.5,823 809.5,845.1 817.5,835 825.5,845.8 833.5,844.6 841.5,859.5 849.5,869.5 857.5,870.6 865.5,871.1 873.5,855.9 881.5,856.7 889.5,841.4 897.5,843.6 905.5,847 913.5,836.9 921.5,832.7 929.5,835.3 937.5,833.1 945.5,831.1 953.5,841.5 961.5,837.6 969.5,841.5 977.5,846.6 985.5,857.2 993.5,854.3 1001.5,858 1009.5,854.5 1017.5,864.2 1025.5,860.4 1033.5,859.6 1041.5,862.7 1049.5,845.8 1057.5,859 1065.5,874.4 1073.5,860.3 1081.5,864.1 1089.5,875 1097.5,876.7 1105.5,885.3 1113.5,878.7 1121.5,885.5 1129.5,886.4 1137.5,863.6 1145.5,875.1 1153.5,858.2 1161.5,848 1169.5,851.7 1177.5,848.1 1185.5,852.3 1193.5,844.1 1201.5,851.3 1209.5,847.2 1217.5,847.8 1225.5,840.4 1233.5,833.7 1241.5,840.4 1249.5,836.2 1257.5,833.9 1265.5,838.6 1273.5,839.5 1281.5,834.4 1289.5,835.4 1297.5,842.7 1305.5,841.1 1313.5,839 1321.5,843.2 1329.5,835.7 1337.5,829.8 1345.5,831.4 1353.5,848 1361.5,843.9 1369.5,837.7"/><text x="-1" y="763.2" font-size="10" fill="#000" textLength="66" lengthAdjust="spacingAndGlyphs">RSI(14) 50.1510</text><text x="1604" y="761.5" font-size="10" fill="#000" textLength="14" lengthAdjust="spacingAndGlyphs">100</text><text x="1604" y="790" font-size="10" fill="#000" textLength="9.4" lengthAdjust="spacingAndGlyphs">80</text><text x="1604" y="841" font-size="10" fill="#000" textLength="9.4" lengthAdjust="spacingAndGlyphs">50</text><text x="1604" y="902" font-size="10" fill="#000" textLength="9.4" lengthAdjust="spacingAndGlyphs">15</text><text x="1604" y="921.5" font-size="10" fill="#000" textLength="4.6" lengthAdjust="spacingAndGlyphs">0</text><rect x="-7" y="925" width="1" height="3" fill="#000"/><text x="-8" y="937" font-size="10" fill="#000" textLength="50.8" lengthAdjust="spacingAndGlyphs">23 Aug 2019</text><rect x="57" y="925" width="1" height="3" fill="#000"/><text x="56" y="937" font-size="10" fill="#000" textLength="46.3" lengthAdjust="spacingAndGlyphs">4 Sep 2019</text><rect x="121" y="925" width="1" height="3" fill="#000"/><text x="120" y="937" font-size="10" fill="#000" textLength="51.3" lengthAdjust="spacingAndGlyphs">16 Sep 2019</text><rect x="185" y="925" width="1" height="3" fill="#000"/><text x="184" y="937" font-size="10" fill="#000" textLength="51.3" lengthAdjust="spacingAndGlyphs">26 Sep 2019</text><rect x="249" y="925" width="1" height="3" fill="#000"/><text x="248" y="937" font-size="10" fill="#000" textLength="49.3" lengthAdjust="spacingAndGlyphs">10 Oct 2019</text><rect x="313" y="925" width="1" height="3" fill="#000"/><text x="312" y="937" font-size="10" fill="#000" textLength="49.3" lengthAdjust="spacingAndGlyphs">22 Oct 2019</text><rect x="377" y="925" width="1" height="3" fill="#000"/><text x="376" y="937" font-size="10" fill="#000" textLength="46.3" lengthAdjust="spacingAndGlyphs">1 Nov 2019</text><rect x="441" y="925" width="1" height="3" fill="#000"/><text x="440" y="937" font-size="10" fill="#000" textLength="51.3" lengthAdjust="spacingAndGlyphs">13 Nov 2019</text><rect x="505" y="925" width="1" height="3" fill="#000"/><text x="504" y="937" font-size="10" fill="#000" textLength="51.3" lengthAdjust="spacingAndGlyphs">25 Nov 2019</text><rect x="569" y="925" width="1" height="3" fill="#000"/><text x="568" y="937" font-size="10" fill="#000" textLength="46.3" lengthAdjust="spacingAndGlyphs">5 Dec 2019</text><rect x="633" y="925" width="1" height="3" fill="#000"/><text x="632" y="937" font-size="10" fill="#000" textLength="51.3" lengthAdjust="spacingAndGlyphs">17 Dec 2019</text><rect x="697" y="925" width="1" height="3" fill="#000"/><text x="696" y="937" font-size="10" fill="#000" textLength="51.3" lengthAdjust="spacingAndGlyphs">31 Dec 2019</text><rect x="761" y="925" width="1" height="3" fill="#000"/><text x="760" y="937" font-size="10" fill="#000" textLength="49.8" lengthAdjust="spacingAndGlyphs">13 Jan 2020</text><rect x="825" y="925" width="1" height="3" fill="#000"/><text x="824" y="937" font-size="10" fill="#000" textLength="49.8" lengthAdjust="spacingAndGlyphs">23 Jan 2020</text><rect x="889" y="925" width="1" height="3" fill="#000"/><text x="888" y="937" font-size="10" fill="#000" textLength="45.8" lengthAdjust="spacingAndGlyphs">6 Feb 2020</text><rect x="953" y="925" width="1" height="3" fill="#000"/><text x="952" y="937" font-size="10" fill="#000" textLength="50.8" lengthAdjust="spacingAndGlyphs">18 Feb 2020</text><rect x="1017" y="925" width="1" height="3" fill="#000"/><text x="1016" y="937" font-size="10" fill="#000" textLength="50.8" lengthAdjust="spacingAndGlyphs">28 Feb 2020</text><rect x="1081" y="925" width="1" height="3" fill="#000"/><text x="1080" y="937" font-size="10" fill="#000" textLength="50.2" lengthAdjust="spacingAndGlyphs">11 Mar 2020</text><rect x="1145" y="925" width="1" height="3" fill="#000"/><text x="1144" y="937" font-size="10" fill="#000" textLength="50.8" lengthAdjust="spacingAndGlyphs">23 Mar 2020</text><rect x="1209" y="925" width="1" height="3" fill="#000"/><text x="1208" y="937" font-size="10" fill="#000" textLength="43.8" lengthAdjust="spacingAndGlyphs">2 Apr 2020</text><rect x="1273" y="925" width="1" height="3" fill="#000"/><text x="1272" y="937" font-size="10" fill="#000" textLength="48.8" lengthAdjust="spacingAndGlyphs">16 Apr 2020</text><rect x="1337" y="925" width="1" height="3" fill="#000"/><text x="1336" y="937" font-size="10" fill="#000" textLength="48.8" lengthAdjust="spacingAndGlyphs">28 Apr 2020</text></g><defs><linearGradient id="gt" x1="0" y1="0" x2="0" y2="1"><stop offset="0" stop-color="#fb4a4a"/><stop offset="1" stop-color="#e23030"/></linearGradient><linearGradient id="gb" x1="0" y1="0" x2="0" y2="1"><stop offset="0" stop-color="#dc2a2a"/><stop offset="1" stop-color="#ad0000"/></linearGradient><linearGradient id="gs" x1="0" y1="0" x2="0" y2="1"><stop offset="0" stop-color="#f2f2f2"/><stop offset="1" stop-color="#c4c6cc"/></linearGradient></defs><rect x="0" y="43" width="215" height="64" fill="#fff"/><rect x="0" y="43" width="47.5" height="24" fill="url(#gt)"/><rect x="163.5" y="43" width="51.5" height="24" fill="url(#gt)"/><rect x="0" y="67" width="105" height="40" fill="url(#gb)"/><rect x="107" y="67" width="108" height="40" fill="url(#gb)"/><rect x="0" y="43" width="47.5" height="1" fill="#c80000"/><rect x="163.5" y="43" width="51.5" height="1" fill="#c80000"/><rect x="0" y="66.3" width="44" height="1" fill="#f59090"/><rect x="167" y="66.3" width="44" height="1" fill="#f59090"/><rect x="50.5" y="43.5" width="110.5" height="21" fill="#fff" stroke="#a4acbc" stroke-width="1"/><rect x="51.5" y="44.5" width="19" height="19" fill="url(#gs)"/><rect x="140" y="44.5" width="19.5" height="19" fill="url(#gs)"/><rect x="70.5" y="44" width="1" height="20" fill="#a4acbc"/><rect x="139" y="44" width="1" height="20" fill="#a4acbc"/><path d="M58 52.3h5l-2.5 3z" fill="#4662c0"/><path d="M147 55.3h5l-2.5-3z" fill="#4662c0"/><text x="135.6" y="58" font-size="12.6" fill="#000" text-anchor="end" textLength="23" lengthAdjust="spacingAndGlyphs">1.00</text><text x="8.3" y="58.7" font-size="12.5" fill="#fff" textLength="25" lengthAdjust="spacingAndGlyphs">SELL</text><text x="176.3" y="58.7" font-size="12.5" fill="#fff" textLength="22.7" lengthAdjust="spacingAndGlyphs">BUY</text><text x="12.3" y="97.4" font-size="10.7" font-weight="bold" fill="#fff" textLength="34.5" lengthAdjust="spacingAndGlyphs">24044</text><text x="122.2" y="97.4" font-size="10.7" font-weight="bold" fill="#fff" textLength="33.4" lengthAdjust="spacingAndGlyphs">24061</text><rect x="51.6" y="93.6" width="3.6" height="3.8" fill="#fff"/><rect x="162.4" y="93.6" width="3.6" height="3.8" fill="#fff"/><text x="58.6" y="97.4" font-size="34" fill="#fff" textLength="15.2" lengthAdjust="spacingAndGlyphs">5</text><text x="169.6" y="97.4" font-size="34" fill="#fff" textLength="15.2" lengthAdjust="spacingAndGlyphs">5</text><rect x="0" y="0" width="1647" height="19" fill="#f0f0f0"/><rect x="0" y="19" width="1647" height="1" fill="#a0a0a0"/><rect x="0" y="20" width="1647" height="1" fill="#696969"/><text x="0" y="11" font-size="13" fill="#000" textLength="26" lengthAdjust="spacingAndGlyphs">订单</text><text x="142" y="11" font-size="12" fill="#000" textLength="47" lengthAdjust="spacingAndGlyphs">自动交易</text><rect x="0" y="5" width="1" height="6" fill="#7ec8f0"/><rect x="197" y="0" width="1" height="19" fill="#a0a0a0"/><rect x="235" y="0" width="1" height="17" fill="#a0a0a0"/><rect x="292" y="0" width="1" height="17" fill="#a0a0a0"/><rect x="382" y="0" width="1" height="17" fill="#a0a0a0"/><rect x="387" y="0" width="1" height="17" fill="#a0a0a0"/><rect x="415" y="0" width="1" height="17" fill="#a0a0a0"/><rect x="444" y="0" width="1" height="17" fill="#a0a0a0"/><rect x="565" y="0" width="1" height="19" fill="#a0a0a0"/><rect x="575" y="0" width="1" height="17" fill="#a0a0a0"/><rect x="632" y="0" width="1" height="17" fill="#a0a0a0"/><rect x="871" y="0" width="1" height="19" fill="#a0a0a0"/><rect x="1049" y="0" width="1" height="17" fill="#a0a0a0"/><rect x="1132" y="0" width="1" height="17" fill="#a0a0a0"/><path fill="#a8a8a8" d="M201 1h3v1h-3zM201 3h3v1h-3zM201 5h3v1h-3zM201 7h3v1h-3zM201 9h3v1h-3zM201 11h3v1h-3zM201 13h3v1h-3zM201 15h3v1h-3z"/><path fill="#a8a8a8" d="M569 1h3v1h-3zM569 3h3v1h-3zM569 5h3v1h-3zM569 7h3v1h-3zM569 9h3v1h-3zM569 11h3v1h-3zM569 13h3v1h-3zM569 15h3v1h-3z"/><path fill="#a8a8a8" d="M875 1h3v1h-3zM875 3h3v1h-3zM875 5h3v1h-3zM875 7h3v1h-3zM875 9h3v1h-3zM875 11h3v1h-3zM875 13h3v1h-3zM875 15h3v1h-3z"/><rect x="236" y="0" width="24" height="18" fill="#f8f8f8"/><rect x="388" y="0" width="24" height="18" fill="#f8f8f8"/><rect x="416" y="0" width="24" height="18" fill="#f8f8f8"/><rect x="576" y="0" width="24" height="18" fill="#f8f8f8"/><rect x="1050" y="0" width="24" height="18" fill="#f8f8f8"/><path d="M38.3 8.8L44 0L54 6.3L53.2 9.6L46 14.6Z" fill="#ecc02a" stroke="#a8690f" stroke-width="1"/><path d="M38.6 9.2L46 14.2L53 9.4" fill="none" stroke="#b47a14" stroke-width="1.6"/><path d="M40.5 8.2L46 12L52.6 7.2" fill="none" stroke="#f7e08a" stroke-width="1.1"/><rect x="68.5" y="-1" width="11" height="10" fill="#1e90ff" stroke="#0a64c8" stroke-width="1"/><rect x="72" y="2" width="6" height="1.5" fill="#d8ecff"/><rect x="72" y="5" width="6" height="1.5" fill="#d8ecff"/><path d="M68.8 14.4a2.6 2.6 0 0 1 0-5.2a3.2 3.2 0 0 1 5.8-1.2a2.8 2.8 0 0 1 4.2 1.4a2.5 2.5 0 0 1 .4 5z" fill="#e4e9f2" stroke="#5570a8" stroke-width="1"/><path d="M102 6.7V14.6A8 8 0 0 0 110 6.7A8 8 0 0 0 105 -0.7z" fill="#8cc48c" opacity=".55"/><g fill="none" stroke-width="1.1"><circle cx="102" cy="6.7" r="7.7" stroke="#9db4e8"/><circle cx="102" cy="6.7" r="5.3" stroke="#6c90e0"/><circle cx="102" cy="6.7" r="3" stroke="#4a74d8"/></g><path d="M102.6 14.4A7.8 7.8 0 0 0 109.6 8" stroke="#58b058" stroke-width="1.6" fill="none"/><circle cx="102" cy="6.5" r="1.7" fill="#2f62d0"/><rect x="102" y="7.2" width="1.5" height="7.4" fill="#1ea01e"/><path d="M121.5 5.5L129 14L137 5.5Z" fill="#f3d04a" stroke="#caa020" stroke-width="0.8"/><path d="M121 4.3q8 3.8 16 0q-.8-2.2-4.6-2.6L131.4 -1h-4.8l-1 2.7q-3.8 .4-4.6 2.6z" fill="#5fb4e4" stroke="#3c8cc8" stroke-width="0.8"/><circle cx="133.6" cy="10.7" r="4.1" fill="#d42010"/><rect x="132.2" y="9.3" width="2.8" height="2.8" fill="#fff"/><path d="M215.5 2v13M213.0 12.5h12.5" stroke="#5a5a5a" stroke-width="1.4" fill="none"/><path d="M213.2 3.6L215.5 0.8L217.8 3.6zM224.5 10.2l2.8 2.3l-2.8 2.3z" fill="#5a5a5a"/><path d="M221.5 2.5v7.5M221.5 3.5h2.5M219 9h2.5" stroke="#109010" stroke-width="1.5" fill="none"/><path d="M243.5 2v13M241.0 12.5h12.5" stroke="#5a5a5a" stroke-width="1.4" fill="none"/><path d="M241.2 3.6L243.5 0.8L245.8 3.6zM252.5 10.2l2.8 2.3l-2.8 2.3z" fill="#5a5a5a"/><rect x="249" y="0" width="1.4" height="11" fill="#109010"/><rect x="247.2" y="1.2" width="5" height="7.4" fill="#3fe03f" stroke="#109010" stroke-width="1"/><path d="M271.5 2v13M269.0 12.5h12.5" stroke="#5a5a5a" stroke-width="1.4" fill="none"/><path d="M269.2 3.6L271.5 0.8L273.8 3.6zM280.5 10.2l2.8 2.3l-2.8 2.3z" fill="#5a5a5a"/><path d="M270 9.8q2.5-1 4-3.5t2.5-2t2.5 2.2t3 2.3" stroke="#209020" stroke-width="1.3" fill="none"/><path d="M310.8 8.5l5.2 5" stroke="#b88a10" stroke-width="3.4" stroke-linecap="round"/><path d="M311.1 8.8l4.6 4.4" stroke="#f0d040" stroke-width="1.6" stroke-linecap="round"/><circle cx="306.8" cy="4.6" r="5.4" fill="#cfe6fa" stroke="#2a66c4" stroke-width="1.5"/><rect x="303.8" y="3.8" width="6" height="1.8" fill="#3878b8"/><rect x="305.90000000000003" y="1.7" width="1.8" height="6" fill="#3878b8"/><path d="M339 8.5l5.2 5" stroke="#b88a10" stroke-width="3.4" stroke-linecap="round"/><path d="M339.3 8.8l4.6 4.4" stroke="#f0d040" stroke-width="1.6" stroke-linecap="round"/><circle cx="335" cy="4.6" r="5.4" fill="#cfe6fa" stroke="#2a66c4" stroke-width="1.5"/><rect x="332" y="3.8" width="6" height="1.8" fill="#3878b8"/><rect x="357" y="-0.5" width="7.8" height="7.6" fill="#3c9c1c"/><rect x="358.2" y="2.3" width="5.4" height="3.6" fill="#f4f8ff"/><rect x="359.2" y="3.3" width="3.4" height="1" fill="#3c9c1c" opacity=".6"/><rect x="365.2" y="-0.5" width="7.8" height="7.6" fill="#2456d0"/><rect x="366.4" y="2.3" width="5.4" height="3.6" fill="#f4f8ff"/><rect x="367.4" y="3.3" width="3.4" height="1" fill="#2456d0" opacity=".6"/><rect x="357" y="7.1" width="7.8" height="7.6" fill="#2456d0"/><rect x="358.2" y="9.899999999999999" width="5.4" height="3.6" fill="#f4f8ff"/><rect x="359.2" y="10.899999999999999" width="3.4" height="1" fill="#2456d0" opacity=".6"/><rect x="365.2" y="7.1" width="7.8" height="7.6" fill="#3c9c1c"/><rect x="366.4" y="9.899999999999999" width="5.4" height="3.6" fill="#f4f8ff"/><rect x="367.4" y="10.899999999999999" width="3.4" height="1" fill="#3c9c1c" opacity=".6"/><path d="M395.5 2v13M393.0 12.5h12.5" stroke="#5a5a5a" stroke-width="1.4" fill="none"/><path d="M393.2 3.6L395.5 0.8L397.8 3.6zM404.5 10.2l2.8 2.3l-2.8 2.3z" fill="#5a5a5a"/><path d="M400.5 3.2v7.4l3.8-3.7z" fill="#7fe07f" stroke="#109010" stroke-width=".9"/><path d="M423.5 2v13M421.0 12.5h12.5" stroke="#5a5a5a" stroke-width="1.4" fill="none"/><path d="M421.2 3.6L423.5 0.8L425.8 3.6zM432.5 10.2l2.8 2.3l-2.8 2.3z" fill="#5a5a5a"/><rect x="429" y="1" width="1.3" height="10.5" fill="#2070b0"/><path d="M430.5 6.5l3.5-2.6v1.9h1.6v1.4h-1.6v1.9z" fill="#d84010"/><path d="M454.5 -1h8l3 3v10h-11z" fill="#fbfbfb" stroke="#9a9a9a" stroke-width="1"/><path d="M462.2 5.2h3.2v4h4v3.2h-4v4.2h-3.2v-4.2h-4.2v-3.2h4.2z" fill="#30d030" stroke="#0c7c0c" stroke-width="0.9"/><path d="M475.5 6h5.6l-2.8 3z" fill="#000"/><circle cx="500" cy="6.3" r="6.6" fill="#fdfdfd" stroke="#1666d8" stroke-width="2.2"/><path d="M500 2.5v4.2h3" stroke="#444" stroke-width="1.1" fill="none"/><path d="M514.7 6h5.6l-2.8 3z" fill="#000"/><rect x="531.5" y="-0.5" width="15" height="14" fill="#fff" stroke="#3c78c8" stroke-width="1"/><rect x="532" y="0" width="14" height="2" fill="#5a96e0"/><rect x="532" y="7" width="14" height="1" fill="#8ab0e0"/><path d="M533.5 5.5l3-1.2l2.5.8l2.5-1.6l3 .8" stroke="#a02010" stroke-width="1.2" fill="none"/><path d="M534 11.5l3-1l2 .6l2.6-2l2.4 2" stroke="#209030" stroke-width="1.2" fill="none"/><path d="M553.7 6h5.6l-2.8 3z" fill="#000"/><path d="M583.5 -1v12.3l2.8-2.6l2.2 4.6l1.9-.9l-2.2-4.5h3.8z" fill="#4a4a4a"/><path d="M615.5 0v15M608 7.5h15" stroke="#5a5a5a" stroke-width="1.2"/><rect x="649" y="1" width="1.3" height="13" fill="#5a5a5a"/><rect x="672" y="6.8" width="12.5" height="1.3" fill="#5a5a5a"/><path d="M700 14L712 1.8" stroke="#5a5a5a" stroke-width="1.3"/><path d="M725.5 10.5L736 0M728 13L739.5 1.5M727 8l3.5 5M730 5l3.5 5M733 2l3.5 5" stroke="#5a5a5a" stroke-width="1.1" fill="none"/><text x="737" y="15.5" font-size="6.5" font-weight="bold" fill="#444">E</text><line x1="755" y1="0.5" x2="768" y2="0.5" stroke="#5a5a5a" stroke-width="1" stroke-dasharray="1,1"/><line x1="755" y1="3.5" x2="768" y2="3.5" stroke="#5a5a5a" stroke-width="1" stroke-dasharray="1,1"/><line x1="755" y1="7.5" x2="768" y2="7.5" stroke="#5a5a5a" stroke-width="1" stroke-dasharray="1,1"/><line x1="755" y1="11.5" x2="768" y2="11.5" stroke="#5a5a5a" stroke-width="1" stroke-dasharray="1,1"/><text x="764.5" y="16" font-size="6.5" font-weight="bold" fill="#444">F</text><text x="785.6" y="11.8" font-size="12.6" fill="#5a5a5a" stroke="#5a5a5a" stroke-width=".3" textLength="9" lengthAdjust="spacingAndGlyphs">A</text><rect x="812.5" y="1.5" width="11.5" height="12" fill="none" stroke="#5a5a5a" stroke-width="1" stroke-dasharray="1,1"/><text x="814.3" y="12" font-size="12" fill="#5a5a5a" stroke="#5a5a5a" stroke-width=".3">T</text><path d="M841.5 1l3 3l-3 2.6l-3-2.6zM849.5 8l3.2 2.8l-3.2 3l-3.2-3z" fill="#4a4a4a"/><path d="M840.5 7.5l2.5 2.5l5-5" stroke="#4a4a4a" stroke-width="1.4" fill="none"/><path d="M859.7 6h5.6l-2.8 3z" fill="#000"/><text x="886.6" y="10.8" font-size="10" fill="#505050" textLength="12.8" lengthAdjust="spacingAndGlyphs">M1</text><text x="914.7" y="10.8" font-size="10" fill="#505050" textLength="12.6" lengthAdjust="spacingAndGlyphs">M5</text><text x="940.6" y="10.8" font-size="10" fill="#505050" textLength="17.4" lengthAdjust="spacingAndGlyphs">M15</text><text x="968.5" y="10.8" font-size="10" fill="#505050" textLength="18" lengthAdjust="spacingAndGlyphs">M30</text><text x="999.6" y="10.8" font-size="10" fill="#505050" textLength="11.8" lengthAdjust="spacingAndGlyphs">H1</text><text x="1026.8" y="10.8" font-size="10" fill="#505050" textLength="12.5" lengthAdjust="spacingAndGlyphs">H4</text><text x="1055.6" y="10.8" font-size="10" fill="#505050" textLength="11.8" lengthAdjust="spacingAndGlyphs">D1</text><text x="1082.5" y="10.8" font-size="10" fill="#505050" textLength="15" lengthAdjust="spacingAndGlyphs">W1</text><text x="1109.5" y="10.8" font-size="10" fill="#505050" textLength="15" lengthAdjust="spacingAndGlyphs">MN</text><path d="M1599.6 7.4L1595.2 11.8" stroke="#1854cc" stroke-width="2.2" stroke-linecap="round"/><circle cx="1602.5" cy="4.2" r="3.9" fill="#fafafa" stroke="#2462e0" stroke-width="1.3"/><ellipse cx="1635.3" cy="4" rx="6.3" ry="4.6" fill="#f5f5f8" stroke="#8e8e8e" stroke-width="1"/><path d="M1637 8.2l1.8 2.3l.2-2.6z" fill="#8e8e8e"/><ellipse cx="1626.3" cy="8.2" rx="5" ry="3.7" fill="#f5f5f8" stroke="#8e8e8e" stroke-width="1"/><path d="M1623.2 11.3l-.6 2.6l2.6-2z" fill="#8e8e8e"/></svg></body></html>
